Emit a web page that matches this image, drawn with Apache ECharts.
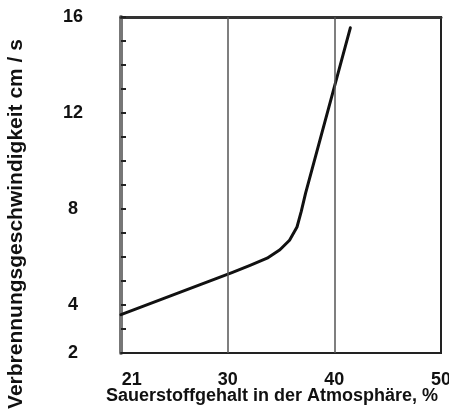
<!DOCTYPE html>
<html>
<head>
<meta charset="utf-8">
<script src="https://cdn.jsdelivr.net/npm/echarts@6/dist/echarts.min.js"></script>
<style>html,body{margin:0;padding:0;background:#fff}#c{width:449px;height:409px}</style>
</head>
<body>
<div id="c"></div>
<script>
// Data
const oxygen = [20, 30.4, 32.1, 33.7, 34.9, 35.8, 36.5, 36.9, 37.3, 41.5];
const speed  = [3.6, 5.35, 5.65, 5.95, 6.3, 6.7, 7.25, 7.9, 8.65, 15.55];
const xLabels = [21, 30, 40, 50];
const yLabels = [2, 4, 8, 12, 16];
const yTicks = [2, 3, 4, 5, 6, 7, 8, 9, 10, 11, 12, 13, 14, 15, 16];
const refLines = [30, 40];
const xName = 'Sauerstoffgehalt in der Atmosphäre, %';
const yName = 'Verbrennungsgeschwindigkeit cm / s';

const font = 'Liberation Sans, Arial, sans-serif';
const chart = echarts.init(document.getElementById('c'), null, {renderer: 'canvas'});
chart.setOption({
  animation: false,
  backgroundColor: '#fff',
  grid: {left: 121, right: 8, top: 17, bottom: 56, outerBoundsMode: 'none', containLabel: false,
         show: true, borderColor: '#222', borderWidth: 2, backgroundColor: 'transparent'},
  xAxis: [{
    type: 'value', min: 20, max: 50,
    name: xName, nameLocation: 'middle', nameGap: 34, nameMoveOverlap: false,
    nameTextStyle: {fontFamily: font, fontWeight: 'bold', fontSize: 18, color: '#111', padding: [0, 18, 0, 0]},
    axisLine: {show: true, onZero: false, lineStyle: {color: '#222', width: 2}},
    axisTick: {show: false},
    splitLine: {show: false},
    axisLabel: {customValues: xLabels, fontFamily: font, fontWeight: 'bold', fontSize: 18, color: '#111', margin: 18}
  }, {
    type: 'value', min: 20, max: 50, position: 'top',
    axisLine: {show: true, lineStyle: {color: '#333', width: 3}},
    axisTick: {show: false}, axisLabel: {show: false}, splitLine: {show: false}
  }],
  yAxis: {
    type: 'value', min: 2, max: 16, interval: 1,
    name: yName, nameLocation: 'middle', nameGap: 94, nameRotate: 90, nameMoveOverlap: false,
    nameTextStyle: {fontFamily: font, fontWeight: 'bold', fontSize: 21, color: '#111', padding: [0, 78, 0, 0]},
    axisLine: {show: true, lineStyle: {color: '#777', width: 4}},
    axisTick: {show: true, inside: true, length: 5, customValues: yTicks, lineStyle: {color: '#222', width: 2}},
    splitLine: {show: false},
    axisLabel: {customValues: yLabels, fontFamily: font, fontWeight: 'bold', fontSize: 18, color: '#111', margin: 48, align: 'center'}
  },
  series: [{
    type: 'line',
    data: oxygen.map((x, i) => [x, speed[i]]),
    showSymbol: false,
    smooth: false,
    lineStyle: {color: '#111', width: 3, join: 'round', cap: 'round'},
    markLine: {
      silent: true, symbol: 'none', label: {show: false},
      lineStyle: {color: '#555', width: 1.5, type: 'solid'},
      data: refLines.map(v => ({xAxis: v}))
    }
  }]
});
</script>
</body>
</html>
